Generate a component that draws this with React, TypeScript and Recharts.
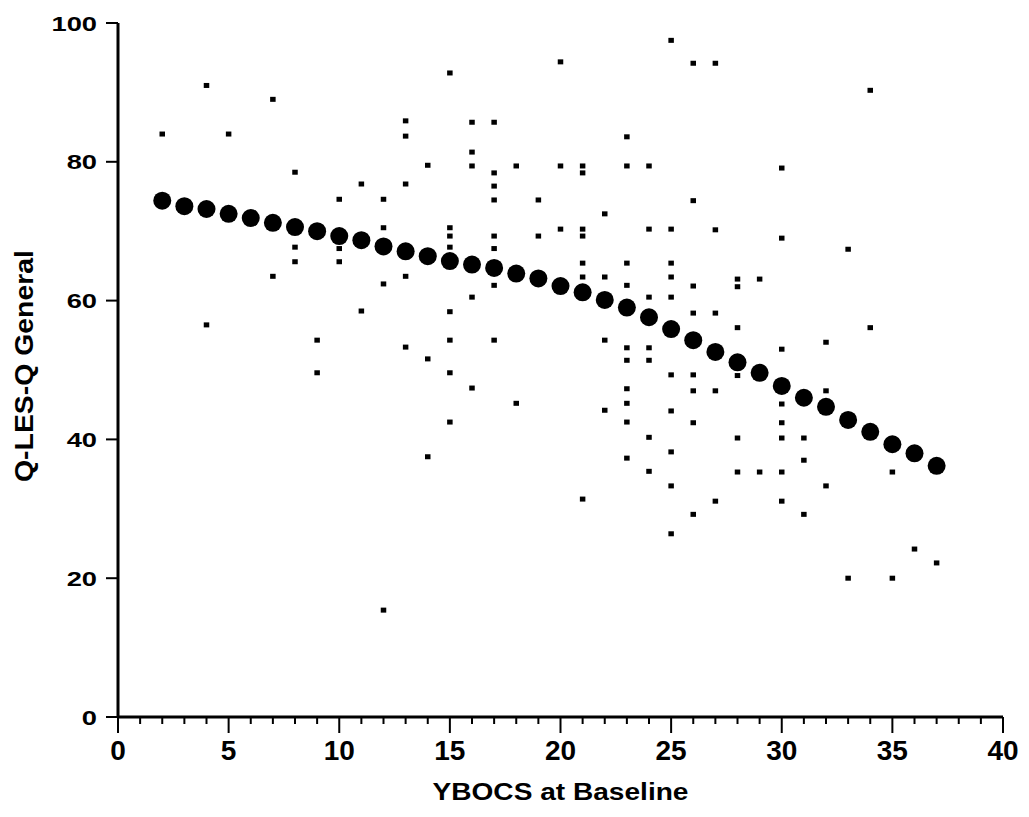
import React from "react";
import { ScatterChart, Scatter, XAxis, YAxis, Label } from "recharts";

// Fitted (large dot) values at each YBOCS baseline score
const fitX = [2, 3, 4, 5, 6, 7, 8, 9, 10, 11, 12, 13, 14, 15, 16, 17, 18, 19, 20, 21, 22, 23, 24, 25, 26, 27, 28, 29, 30, 31, 32, 33, 34, 35, 36, 37];
const fitY = [74.4, 73.6, 73.2, 72.5, 71.9, 71.2, 70.6, 70.0, 69.3, 68.7, 67.8, 67.1, 66.4, 65.7, 65.2, 64.7, 63.9, 63.2, 62.1, 61.2, 60.1, 59.0, 57.6, 55.9, 54.3, 52.6, 51.1, 49.6, 47.7, 46.0, 44.7, 42.8, 41.1, 39.3, 38.0, 36.2];

// Observed (small square) points
const obsX = [
  2,
  4, 4,
  5,
  7, 7,
  8, 8, 8,
  9, 9,
  10, 10, 10,
  11, 11,
  12, 12, 12, 12,
  13, 13, 13, 13, 13,
  14, 14, 14,
  15, 15, 15, 15, 15, 15, 15, 15,
  16, 16, 16, 16, 16,
  17, 17, 17, 17, 17, 17, 17, 17,
  18, 18,
  19, 19,
  20, 20, 20,
  21, 21, 21, 21, 21, 21, 21,
  22, 22, 22, 22,
  23, 23, 23, 23, 23, 23, 23, 23, 23, 23,
  24, 24, 24, 24, 24, 24, 24,
  25, 25, 25, 25, 25, 25, 25, 25, 25, 25,
  26, 26, 26, 26, 26, 26, 26, 26,
  27, 27, 27, 27, 27,
  28, 28, 28, 28, 28, 28,
  29, 29,
  30, 30, 30, 30, 30, 30, 30, 30,
  31, 31, 31,
  32, 32, 32,
  33, 33,
  34, 34,
  35, 35,
  36,
  37,
];
const obsY = [
  84,
  91, 56.5,
  84,
  89, 63.5,
  78.5, 67.7, 65.6,
  54.3, 49.6,
  74.6, 67.5, 65.6,
  76.8, 58.5,
  74.6, 70.5, 62.4, 15.4,
  85.9, 83.7, 76.8, 63.5, 53.3,
  79.5, 51.6, 37.5,
  92.8, 70.5, 69.3, 67.7, 58.4, 54.3, 49.6, 42.5,
  85.7, 81.4, 79.4, 60.5, 47.4,
  85.7, 78.4, 76.5, 74.5, 69.3, 67.5, 62.2, 54.3,
  79.4, 45.2,
  74.5, 69.3,
  94.4, 79.4, 70.3,
  79.4, 78.4, 70.3, 69.3, 65.4, 63.4, 31.4,
  72.5, 63.4, 54.3, 44.2,
  83.6, 79.4, 65.4, 62.2, 53.2, 51.4, 47.3, 45.2, 42.5, 37.3,
  79.4, 70.3, 60.5, 53.2, 51.4, 40.3, 35.4,
  97.5, 70.3, 65.4, 63.4, 60.5, 49.3, 44.1, 38.2, 33.3, 26.4,
  94.2, 74.4, 62.1, 58.2, 49.3, 47.0, 42.4, 29.2,
  94.2, 70.2, 58.2, 47.0, 31.1,
  63.1, 62.0, 56.1, 49.2, 40.2, 35.3,
  63.1, 35.3,
  79.1, 69.0, 53.0, 45.1, 42.4, 40.2, 35.3, 31.1,
  40.2, 37.0, 29.2,
  54.0, 47.0, 33.3,
  67.4, 20.0,
  90.3, 56.1,
  35.3, 20.0,
  24.2,
  22.2,
];

const xTicks = Array.from({ length: 41 }, (_, i) => i);
const yTicks = [0, 20, 40, 60, 80, 100];

const FONT = "'Liberation Sans', Arial, Helvetica, sans-serif";

const fitData = fitX.map((x, i) => ({ x, y: fitY[i] }));
const obsData = obsX.map((x, i) => ({ x, y: obsY[i] }));

const XTick = (props: any) => {
  const { x, y, payload } = props;
  const v = payload.value;
  const major = v % 5 === 0;
  return (
    <g>
      <line x1={x} x2={x} y1={y} y2={y + (major ? 16 : 7)} stroke="#000" strokeWidth={2} />
      {major && (
        <text x={x} y={y + 43} textAnchor="middle" fontFamily={FONT} fontWeight="bold" fontSize={28} fill="#000">
          {v}
        </text>
      )}
    </g>
  );
};

const YTick = (props: any) => {
  const { x, y, payload } = props;
  return (
    <g transform={`translate(${x},${y}) scale(1.3,1)`}>
      <text x={0} y={7.5} textAnchor="end" fontFamily={FONT} fontWeight="bold" fontSize={21} fill="#000">
        {payload.value}
      </text>
    </g>
  );
};

const XTitle = (props: any) => {
  const vb = props.viewBox || { x: 118, width: 885 };
  const cx = vb.x + vb.width / 2;
  return (
    <text x={cx} y={800} textAnchor="middle" fontFamily={FONT} fontWeight="bold" fontSize={24} fill="#000"
      textLength={256} lengthAdjust="spacingAndGlyphs">
      YBOCS at Baseline
    </text>
  );
};

const YTitle = () => (
  <text x={0} y={0} transform="translate(33,366) rotate(-90)" textAnchor="middle" fontFamily={FONT}
    fontWeight="bold" fontSize={25} fill="#000" textLength={232} lengthAdjust="spacingAndGlyphs">
    Q-LES-Q General
  </text>
);

const SmallSquare = (props: any) => (
  <rect x={props.cx - 2.75} y={props.cy - 2.5} width={5.5} height={5} fill="#000" />
);

const BigDot = (props: any) => <circle cx={props.cx} cy={props.cy} r={9} fill="#000" />;

export default function App() {
  return (
    <div style={{ position: "absolute", left: 0, top: 0, background: "#fff" }}>
      <ScatterChart width={1029} height={817} margin={{ top: 23, right: 26, bottom: 40, left: 38 }}>
        <XAxis
          type="number"
          dataKey="x"
          domain={[0, 40]}
          ticks={xTicks}
          interval={0}
          height={60}
          axisLine={{ stroke: "#000", strokeWidth: 3 }}
          tickLine={false}
          tickSize={0}
          tickMargin={0}
          tick={<XTick />}
          allowDataOverflow
        >
          <Label content={<XTitle />} />
        </XAxis>
        <YAxis
          type="number"
          dataKey="y"
          domain={[0, 100]}
          ticks={yTicks}
          interval={0}
          width={80}
          axisLine={{ stroke: "#000", strokeWidth: 3 }}
          tickLine={{ stroke: "#000", strokeWidth: 2 }}
          tickSize={12}
          tickMargin={9}
          tick={<YTick />}
          allowDataOverflow
        >
          <Label content={<YTitle />} />
        </YAxis>
        <Scatter data={obsData} fill="#000" shape={<SmallSquare />} isAnimationActive={false} />
        <Scatter data={fitData} fill="#000" shape={<BigDot />} isAnimationActive={false} />
      </ScatterChart>
    </div>
  );
}
